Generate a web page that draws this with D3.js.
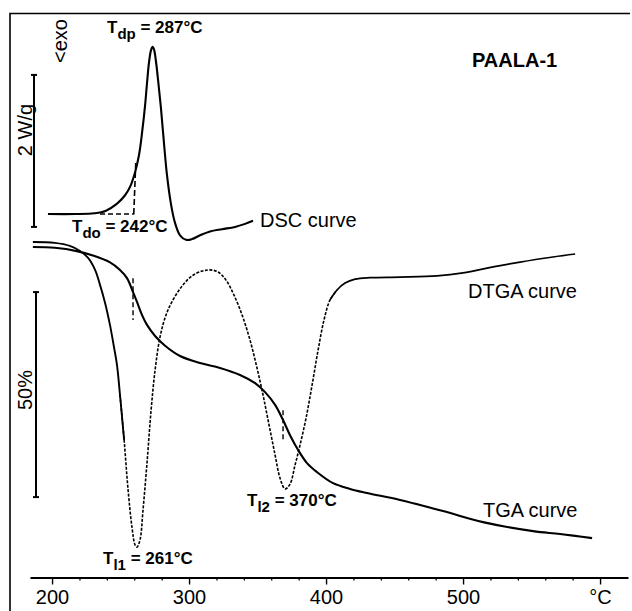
<!DOCTYPE html>
<html>
<head>
<meta charset="utf-8">
<script src="https://cdn.jsdelivr.net/npm/d3@7"></script>
<style>
  html, body { margin: 0; padding: 0; background: #fff; }
  svg { display: block; }
  text { font-family: "Liberation Sans", Arial, sans-serif; fill: #000; }
</style>
</head>
<body>
<svg id="chart" width="632" height="611"></svg>
<script>
// ---------------- DATA ----------------
// DSC curve: temperature (°C) vs heat flow relative to baseline (W/g, exo up)
const dscTemp = [197, 217, 231, 239, 247, 253, 257, 260.6, 263.5, 265.7, 267.9, 269.3, 270.8, 272.3, 273.4, 274.5, 275.9, 277.4, 279.6, 281.8, 283.9, 286.9, 289.8, 293.4, 297.8, 302.2, 308, 315.3, 324.1, 333.6, 340.9, 346.7];
const dscFlow = [0, 0, 0.01, 0.04, 0.13, 0.24, 0.36, 0.55, 0.78, 1.07, 1.43, 1.72, 2.0, 2.16, 2.2, 2.16, 2.0, 1.76, 1.37, 0.91, 0.51, 0.12, -0.12, -0.28, -0.34, -0.33, -0.28, -0.23, -0.2, -0.17, -0.13, -0.09];

// TGA curve: temperature (°C) vs residual mass (%)
const tgaTemp = [186, 202, 218, 231, 242, 249.6, 254.7, 259.1, 262, 265.7, 269.3, 275.2, 282.5, 293.4, 308, 322.6, 337.2, 348.2, 355.5, 362.8, 368.6, 373.7, 379.6, 386.1, 393.4, 405.1, 417.5, 429.9, 454, 485.4, 514.6, 551.1, 570.8, 594.2];
const tgaMass = [100, 99.8, 99.0, 97.8, 96.3, 94.4, 92.4, 89.0, 86.6, 83.4, 81.0, 78.3, 75.9, 73.4, 71.7, 70.5, 68.8, 66.8, 64.6, 61.5, 57.8, 54.1, 50.5, 47.3, 45.1, 42.4, 41.0, 40.0, 38.3, 35.6, 32.9, 30.7, 30.0, 29.0];

// DTGA curve: temperature (°C) vs mass-loss rate (arbitrary units)
const dtgaTemp = [186, 202, 213, 220.4, 226.3, 231.4, 235, 238.7, 242.3, 245.3, 247.4, 249.6, 252.6, 255.5, 258.4, 260.6, 262, 264.2, 266.4, 269.3, 272.3, 275.2, 278.8, 283.2, 288.3, 294.9, 302.2, 309.5, 315.3, 321.2, 327, 332.8, 338.7, 344.5, 349.6, 354, 358.4, 362.8, 366.4, 370.1, 373.7, 377.4, 381, 385.4, 389.8, 394.2, 398.5, 402.9, 408, 413.9, 421.2, 432.1, 454, 481, 500, 521.9, 541.6, 565.7, 581.8];
const dtgaRate = [0, -0.03, -0.13, -0.3, -0.53, -0.93, -1.43, -2.03, -2.77, -3.53, -4.1, -5.1, -6.6, -8.27, -9.53, -10.1, -10.17, -9.93, -8.93, -7.37, -5.6, -4.27, -3.17, -2.43, -1.93, -1.47, -1.13, -0.97, -0.93, -1.0, -1.27, -1.77, -2.43, -3.27, -4.2, -5.1, -6.1, -7.1, -7.87, -8.23, -8.07, -7.43, -6.77, -5.87, -4.77, -3.6, -2.6, -1.93, -1.6, -1.37, -1.24, -1.19, -1.17, -1.13, -1.03, -0.83, -0.67, -0.5, -0.4];

// axis ticks
const majorTicks = [200, 300, 400, 500, 600];
const majorTickLabels = ["200", "300", "400", "500", "°C"];
const minorTicks = [220, 240, 260, 280, 320, 340, 360, 380, 420, 440, 460, 480, 520, 540, 560, 580];

// annotation values
const dscOnsetTemp = 260, dscOnsetLineStart = 235, dscOnsetTop = 0.67;
const tgaMarkTemps = [259.1, 368.6];
const tgaMarkTop = [92.4, 60.2];
const tgaMarkBottom = [82.2, 52.9];
const dscBar = [-0.17, 1.83];   // 2 W/g scale bar
const tgaBar = [89, 39];        // 50 % scale bar

// ---------------- CHART ----------------
const svg = d3.select("#chart");

const x = d3.scaleLinear().domain([183.9, 620.4]).range([30, 628]);
const yDSC = d3.scaleLinear().domain([0, 1]).range([214, 138]);
const yTGA = d3.scaleLinear().domain([100, 50]).range([247, 452]);
const yDTGA = d3.scaleLinear().domain([0, -1]).range([242, 272]);

// frame
svg.append("path")
  .attr("d", "M10,611 L10,13.5 L630,13.5")
  .attr("fill", "none").attr("stroke", "#000").attr("stroke-width", 1.6);

// x axis
const axisY = 577.5;
const gAxis = svg.append("g").attr("transform", `translate(0,${axisY})`)
  .call(d3.axisBottom(x).tickValues(majorTicks)
    .tickFormat((d, i) => majorTickLabels[i])
    .tickSize(7).tickPadding(5).tickSizeOuter(0));
gAxis.select(".domain").attr("stroke", "#000").attr("stroke-width", 1.8);
gAxis.selectAll(".tick line").attr("stroke", "#000").attr("stroke-width", 1.4);
gAxis.selectAll(".tick text")
  .style("font-family", "'Liberation Sans', Arial, sans-serif")
  .style("font-size", "20px").attr("fill", "#000");

const gMinor = svg.append("g").attr("transform", `translate(0,${axisY})`)
  .call(d3.axisBottom(x).tickValues(minorTicks).tickFormat("").tickSize(3).tickSizeOuter(0));
gMinor.select(".domain").remove();
gMinor.selectAll(".tick line").attr("stroke", "#000").attr("stroke-width", 1.3);

// curves
const dsc = dscTemp.map((t, i) => ({ t, v: dscFlow[i] }));
const tga = tgaTemp.map((t, i) => ({ t, v: tgaMass[i] }));
const dtga = dtgaTemp.map((t, i) => ({ t, v: dtgaRate[i] }));

const lineDSC = d3.line().x(d => x(d.t)).y(d => yDSC(d.v)).curve(d3.curveCatmullRom);
const lineTGA = d3.line().x(d => x(d.t)).y(d => yTGA(d.v)).curve(d3.curveCatmullRom);
const lineDTGA = d3.line().x(d => x(d.t)).y(d => yDTGA(d.v)).curve(d3.curveCatmullRom);

svg.append("path").datum(dsc).attr("d", lineDSC)
  .attr("fill", "none").attr("stroke", "#000").attr("stroke-width", 2.1);
svg.append("path").datum(tga).attr("d", lineTGA)
  .attr("fill", "none").attr("stroke", "#000").attr("stroke-width", 2.1);

// DTGA: solid at ends, broken (dotted) in the middle as in the scan
svg.append("path").datum(dtga.filter(d => d.t <= 252.6)).attr("d", lineDTGA)
  .attr("fill", "none").attr("stroke", "#000").attr("stroke-width", 1.9);
svg.append("path").datum(dtga.filter(d => d.t >= 249.6 && d.t <= 408)).attr("d", lineDTGA)
  .attr("fill", "none").attr("stroke", "#000").attr("stroke-width", 1.6)
  .attr("stroke-dasharray", "3,1.5");
svg.append("path").datum(dtga.filter(d => d.t >= 402.9)).attr("d", lineDTGA)
  .attr("fill", "none").attr("stroke", "#000").attr("stroke-width", 1.7);

// DSC onset construction
svg.append("line")
  .attr("x1", x(dscOnsetLineStart)).attr("x2", x(dscOnsetTemp))
  .attr("y1", yDSC(0)).attr("y2", yDSC(0))
  .attr("stroke", "#000").attr("stroke-width", 1.3).attr("stroke-dasharray", "5,3");
svg.append("line")
  .attr("x1", x(dscOnsetTemp) - 0.5).attr("x2", x(dscOnsetTemp) + 1.5)
  .attr("y1", yDSC(0)).attr("y2", yDSC(dscOnsetTop))
  .attr("stroke", "#000").attr("stroke-width", 1.6).attr("stroke-dasharray", "6,3");

// TGA inflection marks
tgaMarkTemps.forEach((t, i) => {
  svg.append("line")
    .attr("x1", x(t)).attr("x2", x(t))
    .attr("y1", yTGA(tgaMarkTop[i])).attr("y2", yTGA(tgaMarkBottom[i]))
    .attr("stroke", "#000").attr("stroke-width", 1.4).attr("stroke-dasharray", "5,3");
});

// scale bars
function scaleBar(xPos, y1, y2) {
  svg.append("line").attr("x1", xPos).attr("x2", xPos).attr("y1", y1).attr("y2", y2)
    .attr("stroke", "#000").attr("stroke-width", 2);
  [y1, y2].forEach(yy => svg.append("line")
    .attr("x1", xPos - 3).attr("x2", xPos + 3).attr("y1", yy).attr("y2", yy)
    .attr("stroke", "#000").attr("stroke-width", 2));
}
scaleBar(34, yDSC(dscBar[1]), yDSC(dscBar[0]));
scaleBar(36, yTGA(tgaBar[0]), yTGA(tgaBar[1]));

function rotText(xPos, yPos, str) {
  svg.append("text").attr("transform", `translate(${xPos},${yPos}) rotate(-90)`)
    .attr("text-anchor", "middle").style("font-size", "20px").text(str);
}
rotText(32, 130, "2 W/g");
rotText(67, 41, "<exo");
rotText(32, 390, "50%");

// plain labels
function label(xPos, yPos, str, bold) {
  svg.append("text").attr("x", xPos).attr("y", yPos)
    .style("font-size", "20px").style("font-weight", bold ? "bold" : "normal").text(str);
}
label(472, 67, "PAALA-1", true);
label(260, 227, "DSC curve");
label(468, 298, "DTGA curve");
label(483, 517, "TGA curve");

// subscripted temperature labels
function tLabel(xPos, yPos, sub, rest) {
  const t = svg.append("text").attr("x", xPos).attr("y", yPos)
    .style("font-size", "17px").style("font-weight", "bold");
  t.append("tspan").text("T");
  t.append("tspan").attr("dy", 6).style("font-size", "15px").text(sub);
  t.append("tspan").attr("dy", -6).text(" = " + rest);
}
tLabel(107, 33, "dp", "287°C");
tLabel(72, 232, "do", "242°C");
tLabel(247, 506, "l2", "370°C");
tLabel(103, 564, "l1", "261°C");
</script>
</body>
</html>
